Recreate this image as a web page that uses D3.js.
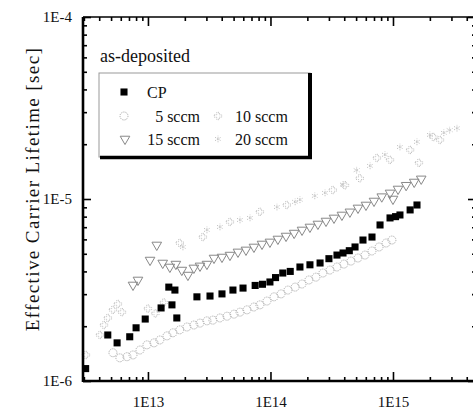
<!DOCTYPE html>
<html>
<head>
<meta charset="utf-8">
<title>Effective carrier lifetime</title>
<script src="https://d3js.org/d3.v7.min.js"></script>
<style>
body { margin: 0; background: #fff; }
text { font-family: "Liberation Serif", "Times New Roman", serif; fill: #111; }
</style>
</head>
<body>
<svg id="chart" width="473" height="410"></svg>
<script>
// [excess carrier density, lifetime in sec]
var cp = [[3.1e12,1.17e-6],[4.7e12,1.79e-6],[5.6e12,1.62e-6],[7.1e12,1.75e-6],[8.0e12,1.96e-6],[9.5e12,2.19e-6],
  [1.28e13,2.52e-6],[1.48e13,3.28e-6],[1.66e13,3.16e-6],[1.57e13,2.62e-6],[1.72e13,2.22e-6],[2.51e13,2.9e-6],
  [3.21e13,2.93e-6],[4.02e13,3.01e-6],[4.94e13,3.16e-6],[5.97e13,3.24e-6],[7.5e13,3.35e-6],[8.6e13,3.4e-6],
  [9.9e13,3.5e-6],[1.1e14,3.7e-6],[1.26e14,3.92e-6],[1.45e14,4.0e-6],[1.74e14,4.23e-6],[2.1e14,4.35e-6],
  [2.54e14,4.45e-6],[3.0e14,4.7e-6],[3.49e14,4.92e-6],[3.91e14,5.05e-6],[4.4e14,5.2e-6],[4.9e14,5.45e-6],
  [5.69e14,5.95e-6],[6.74e14,6.18e-6],[7.84e14,7.2e-6],[9.46e14,7.87e-6],[1.05e15,8.0e-6],[1.14e15,8.17e-6],
  [1.38e15,8.71e-6],[1.57e15,9.27e-6]];

var sccm5 = [[5.18e12,1.43e-6],[5.9e12,1.34e-6],[6.74e12,1.36e-6],[7.55e12,1.39e-6],[8.61e12,1.48e-6],[9.81e12,1.58e-6],
  [1.12e13,1.62e-6],[1.25e13,1.68e-6],[1.43e13,1.77e-6],[1.6e13,1.84e-6],[1.82e13,1.91e-6],[2.08e13,1.98e-6],
  [2.37e13,2.03e-6],[2.66e13,2.08e-6],[3.03e13,2.14e-6],[3.39e13,2.16e-6],[3.87e13,2.22e-6],[4.42e13,2.27e-6],
  [5.04e13,2.33e-6],[5.64e13,2.39e-6],[6.43e13,2.46e-6],[7.33e13,2.55e-6],[8.2e13,2.62e-6],[9.36e13,2.75e-6],
  [1.07e14,2.9e-6],[1.22e14,3.01e-6],[1.39e14,3.16e-6],[1.59e14,3.28e-6],[1.81e14,3.41e-6],[2.06e14,3.59e-6],
  [2.35e14,3.72e-6],[2.68e14,3.92e-6],[3.06e14,4.07e-6],[3.49e14,4.23e-6],[3.98e14,4.39e-6],[4.54e14,4.56e-6],
  [5.18e14,4.74e-6],[5.91e14,4.92e-6],[6.74e14,5.18e-6],[7.7e14,5.45e-6],[8.78e14,5.73e-6],[9.8e14,5.95e-6]];

var sccm10 = [[3.12e12,1.39e-6],[4.06e12,1.79e-6],[4.38e12,2.03e-6],[4.71e12,2.22e-6],[5.18e12,2.46e-6],[5.69e12,2.65e-6],
  [6.14e12,2.39e-6],[1.0e13,2.5e-6],[1.15e13,2.35e-6],[1.35e13,2.7e-6],[1.82e13,5.73e-6],[2.81e13,6.18e-6],
  [4.67e13,7.48e-6],[8.2e13,8.5e-6],[1.36e14,9.27e-6],[3.23e14,1.12e-5],[4.06e14,1.19e-5],[5.36e14,1.3e-5],
  [7.4e14,1.68e-5],[9.46e14,1.64e-5],[1.38e15,1.86e-5],[1.63e15,1.58e-5],[2.14e15,2.19e-5],[2.42e15,2.11e-5]];

var sccm15 = [[7.55e12,3.37e-6],[8.29e12,3.59e-6],[1.04e13,4.62e-6],[1.18e13,5.59e-6],[1.32e13,4.45e-6],[1.51e13,4.23e-6],
  [1.69e13,4.39e-6],[1.89e13,4.07e-6],[2.12e13,3.82e-6],[2.37e13,4.18e-6],[2.66e13,4.29e-6],[3.03e13,4.39e-6],
  [3.46e13,4.74e-6],[4.02e13,4.8e-6],[4.67e13,4.92e-6],[5.43e13,5.12e-6],[6.31e13,5.25e-6],[7.33e13,5.45e-6],
  [8.53e13,5.66e-6],[9.9e13,5.81e-6],[1.15e14,6.03e-6],[1.34e14,6.26e-6],[1.56e14,6.5e-6],[1.81e14,6.76e-6],
  [2.1e14,7.02e-6],[2.44e14,7.29e-6],[2.84e14,7.57e-6],[3.3e14,7.87e-6],[3.83e14,8.17e-6],[4.45e14,8.5e-6],
  [5.18e14,8.93e-6],[6.02e14,9.27e-6],[7.0e14,9.75e-6],[8.1e14,1.03e-5],[9.46e14,1.08e-5],[1.0e15,1.0e-5],
  [1.1e15,1.135e-5],[1.28e15,1.19e-5],[1.49e15,1.24e-5],[1.7e15,1.29e-5]];

var sccm20 = [[1.93e13,5.45e-6],[3.03e13,6.76e-6],[3.87e13,7.02e-6],[5.64e13,7.67e-6],[6.81e13,7.87e-6],[1.13e14,9.03e-6],
  [1.59e14,9.64e-6],[1.74e14,9.9e-6],[2.3e14,1.04e-5],[2.79e14,1.08e-5],[3.9e14,1.2e-5],[5.05e14,1.44e-5],
  [6.5e14,1.52e-5],[8.6e14,1.75e-5],[1.14e15,1.93e-5],[1.57e15,2.06e-5],[2.0e15,2.25e-5],[2.6e15,2.31e-5],
  [2.9e15,2.39e-5],[3.33e15,2.45e-5]];

var xMajor = [1e13, 1e14, 1e15];
var xTickLabels = ["1E13", "1E14", "1E15"];
var yMajor = [1e-6, 1e-5, 1e-4];
var yTickLabels = ["1E-6", "1E-5", "1E-4"];
var legendTitle = "as-deposited";
var yTitle = "Effective Carrier Lifetime [sec]";

var svg = d3.select("#chart");
var pL = 83, pR = 476, pT = 17, pB = 381;

var x = d3.scaleLog().domain([2.95e12, 4.76e15]).range([pL, pR]);
var y = d3.scaleLog().domain([1e-6, 1e-4]).range([pB, pT]);

function isMajor(d) { var l = Math.log10(d); return Math.abs(l - Math.round(l)) < 1e-6; }
var xMinor = x.ticks().filter(function(d) { return !isMajor(d); });
var yMinor = y.ticks().filter(function(d) { return !isMajor(d); });

// markers
var sym = {
  square: d3.symbol().type(d3.symbolSquare).size(50),
  circle: d3.symbol().type(d3.symbolCircle).size(50),
  tri: d3.symbol().type(d3.symbolTriangle).size(40),
  plus: d3.symbol().type(d3.symbolCross).size(30),
  star: d3.symbol().type(d3.symbolAsterisk ? d3.symbolAsterisk : d3.symbolCross).size(30)
};

var series = [
  { data: sccm5,  path: sym.circle, fill: "none", stroke: "#aaa", dash: "1.2,1", rot: 0 },
  { data: sccm20, path: sym.star,   fill: "none", stroke: "#bbb", dash: "1,1", rot: 0 },
  { data: sccm10, path: sym.plus,   fill: "none", stroke: "#bbb", dash: "1,1", rot: 0 },
  { data: sccm15, path: sym.tri,    fill: "none", stroke: "#888", dash: null, rot: 180 },
  { data: cp,     path: sym.square, fill: "#000", stroke: "none", dash: null, rot: 0 }
];

series.forEach(function(s) {
  svg.append("g").selectAll("path")
    .data(s.data)
    .enter().append("path")
      .attr("d", s.path())
      .attr("transform", function(d) { return "translate(" + x(d[0]) + "," + y(d[1]) + ") rotate(" + s.rot + ")"; })
      .attr("fill", s.fill)
      .attr("stroke", s.stroke)
      .attr("stroke-width", 1)
      .attr("stroke-dasharray", s.dash);
});

// axes, ticks pointing inward on all four sides
function addAxis(axis, vals, size, tr, fmt, pad) {
  var g = svg.append("g").attr("transform", tr)
    .call(axis.tickValues(vals).tickSize(size).tickPadding(pad || 3).tickFormat(fmt || ""));
  g.select(".domain").remove();
  g.selectAll("line").attr("stroke", "#000").attr("stroke-width", 1.6);
  g.selectAll("text").attr("font-size", 15).attr("fill", "#111")
    .style("font-family", "'Liberation Serif', 'Times New Roman', serif");
  return g;
}
addAxis(d3.axisBottom(x), xMinor, -4, "translate(0," + pB + ")");
addAxis(d3.axisBottom(x), xMajor, -9, "translate(0," + pB + ")", function(d, i) { return xTickLabels[i]; }, 15);
addAxis(d3.axisTop(x), xMinor, -4, "translate(0," + pT + ")");
addAxis(d3.axisTop(x), xMajor, -9, "translate(0," + pT + ")");
addAxis(d3.axisLeft(y), yMinor, -4, "translate(" + pL + ",0)");
addAxis(d3.axisLeft(y), yMajor, -8, "translate(" + pL + ",0)", function(d, i) { return yTickLabels[i]; }, 11);
addAxis(d3.axisRight(y), yMinor, -4, "translate(" + pR + ",0)");
addAxis(d3.axisRight(y), yMajor, -8, "translate(" + pR + ",0)");

// frame
svg.append("line").attr("x1", pL).attr("x2", pR).attr("y1", pT).attr("y2", pT)
  .attr("stroke", "#000").attr("stroke-width", 1.6);
svg.append("line").attr("x1", pL).attr("x2", pR).attr("y1", pB).attr("y2", pB)
  .attr("stroke", "#000").attr("stroke-width", 2.6);
svg.append("line").attr("x1", pL).attr("x2", pL).attr("y1", pT).attr("y2", pB + 1)
  .attr("stroke", "#000").attr("stroke-width", 2.6);
svg.append("line").attr("x1", pR).attr("x2", pR).attr("y1", pT).attr("y2", pB)
  .attr("stroke", "#000").attr("stroke-width", 1.6);

// y title
svg.append("text")
  .attr("transform", "translate(39,189) rotate(-90)")
  .attr("text-anchor", "middle")
  .attr("font-size", 19)
  .attr("letter-spacing", 1.4)
  .attr("fill", "#222")
  .text(yTitle);

// legend
var lg = svg.append("g");
lg.append("text").attr("x", 100).attr("y", 62).attr("font-size", 18).text(legendTitle);
lg.append("rect").attr("x", 99).attr("y", 73).attr("width", 211).attr("height", 84)
  .attr("fill", "#fff").attr("stroke", "#999").attr("stroke-width", 1);
lg.append("line").attr("x1", 100).attr("x2", 312).attr("y1", 157.5).attr("y2", 157.5)
  .attr("stroke", "#000").attr("stroke-width", 3.5);
lg.append("line").attr("x1", 310).attr("x2", 310).attr("y1", 73).attr("y2", 159)
  .attr("stroke", "#000").attr("stroke-width", 4);

var entries = [
  { s: series[4], label: "CP",      sx: 124, sy: 92,  tx: 147, ty: 98,  anchor: "start" },
  { s: series[0], label: "5 sccm",  sx: 124, sy: 116, tx: 200, ty: 122, anchor: "end" },
  { s: series[2], label: "10 sccm", sx: 218, sy: 116, tx: 235, ty: 122, anchor: "start" },
  { s: series[3], label: "15 sccm", sx: 125, sy: 139, tx: 200, ty: 145, anchor: "end" },
  { s: series[1], label: "20 sccm", sx: 218, sy: 139, tx: 235, ty: 145, anchor: "start" }
];
entries.forEach(function(e) {
  lg.append("path").attr("d", e.s.path())
    .attr("transform", "translate(" + e.sx + "," + e.sy + ") rotate(" + e.s.rot + ")")
    .attr("fill", e.s.fill).attr("stroke", e.s.stroke).attr("stroke-dasharray", e.s.dash);
  lg.append("text").attr("x", e.tx).attr("y", e.ty).attr("font-size", 16)
    .attr("text-anchor", e.anchor).text(e.label);
});
</script>
</body>
</html>
